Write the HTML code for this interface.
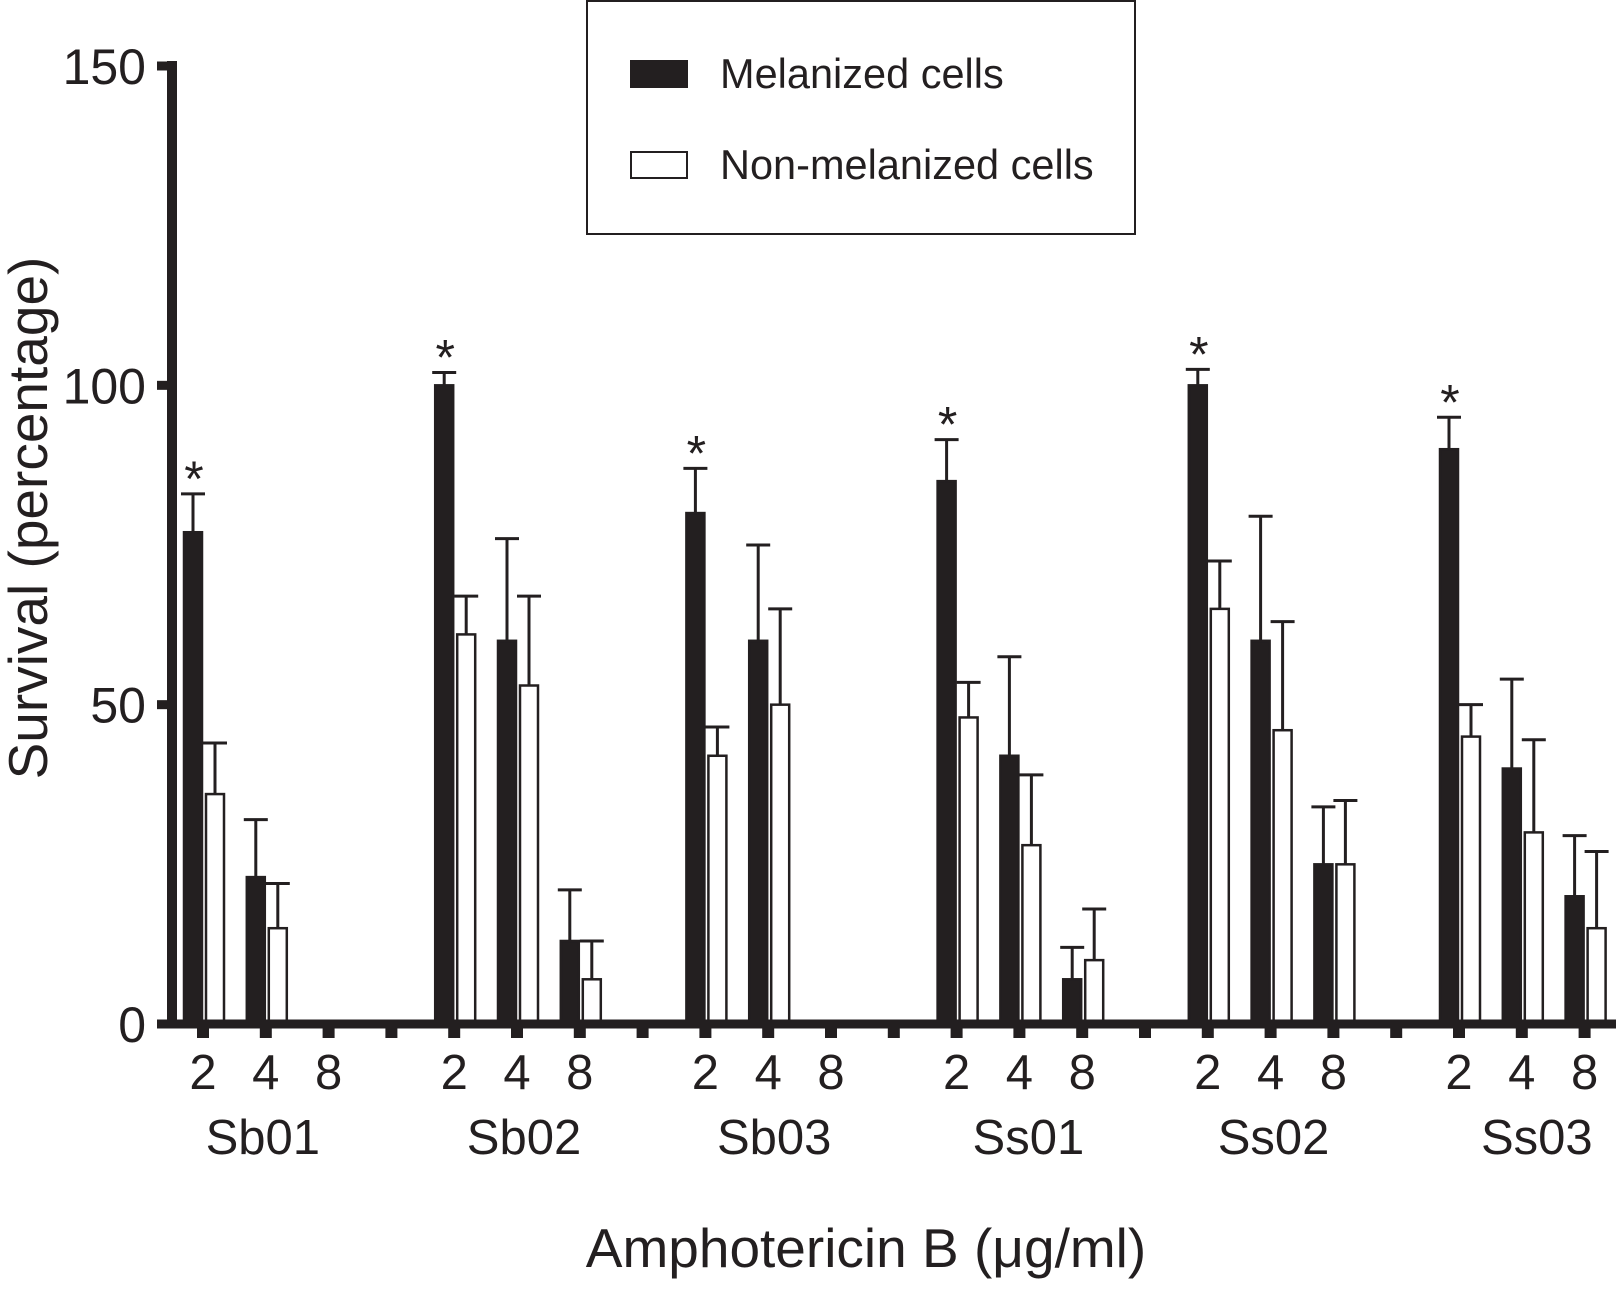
<!DOCTYPE html>
<html><head><meta charset="utf-8"><style>
html,body{margin:0;padding:0;background:#fff;}
svg{display:block;font-family:"Liberation Sans",Arial,sans-serif;}
</style></head><body>
<svg id="chart" width="1616" height="1293" viewBox="0 0 1616 1293">
<g id="legend">
<rect x="587" y="1" width="548" height="233" fill="#fff" stroke="#231f20" stroke-width="2"/>
<rect x="631" y="61" width="56" height="26" fill="#231f20" stroke="#231f20" stroke-width="2"/>
<text x="720" y="88" font-size="41.5" fill="#231f20">Melanized cells</text>
<rect x="631" y="152" width="56" height="26" fill="#fff" stroke="#231f20" stroke-width="2"/>
<text x="720" y="179" font-size="41.5" fill="#231f20">Non-melanized cells</text>
</g>
<text transform="translate(47,518) rotate(-90)" text-anchor="middle" font-size="55" fill="#231f20">Survival (percentage)</text>
<text x="866" y="1267" text-anchor="middle" font-size="55" fill="#231f20">Amphotericin B (μg/ml)</text>
<g id="marks"></g>
<g id="axes"></g>
</svg>
<script>
const groups = ["Sb01","Sb02","Sb03","Ss01","Ss02","Ss03"];
const doses = ["2","4","8"];
const melanized = [77,23,0, 100,60,13, 80,60,0, 85,42,7, 100,60,25, 90,40,20];
const melanizedErr = [6,9,0, 2,16,8, 7,15,0, 6.5,15.5,5, 2.5,19.5,9, 5,14,9.5];
const nonMelanized = [36,15,0, 61,53,7, 42,50,0, 48,28,10, 65,46,25, 45,30,15];
const nonMelanizedErr = [8,7,0, 6,14,6, 4.5,15,0, 5.5,11,8, 7.5,17,10, 5,14.5,12];
const significant = [1,0,0, 1,0,0, 1,0,0, 1,0,0, 1,0,0, 1,0,0];
const yTicks = [0,50,100,150];

const NS="http://www.w3.org/2000/svg";
const C="#231f20";
const y0=1024, yTop=66, yMax=150;
function yS(v){return y0-(y0-yTop)*v/yMax;}
function xS(g,d){return 203+251.2*g+62.8*d;}
const labelShift=[-3,7,6,9,3,15];
const marks=document.getElementById('marks'), axes=document.getElementById('axes');
function mk(tag,attrs,parent){const e=document.createElementNS(NS,tag);for(const k in attrs)e.setAttribute(k,attrs[k]);parent.appendChild(e);return e;}

groups.forEach((gname,g)=>{
  doses.forEach((dn,d)=>{
    const i=g*3+d, cx=xS(g,d);
    [[melanized,melanizedErr,cx-19,C,'melanized'],[nonMelanized,nonMelanizedErr,cx+3,'#fff','non-melanized']].forEach(([vals,errs,x,fill,nm])=>{
      const v=vals[i]; if(v<=0) return;
      const top=yS(v), bw=18;
      const r=mk('rect',{x:x,y:top,width:bw,height:y0-top,fill:fill,stroke:C,'stroke-width':2.5},marks);
      
      
      const et=yS(v+errs[i]), mx=x+bw/2;
      const l=mk('line',{x1:mx,y1:top,x2:mx,y2:et,stroke:C,'stroke-width':3},marks);
      
      
      const c=mk('line',{x1:mx-12,y1:et,x2:mx+12,y2:et,stroke:C,'stroke-width':3},marks);
      
      
      if(nm==='melanized' && significant[i]){
        const s=mk('text',{x:mx+1,y:et+2,'text-anchor':'middle','font-size':50,fill:C},marks);
        s.textContent='*';
        
        
      }
    });
    const tk=mk('rect',{x:cx-6,y:y0,width:12,height:14,fill:C},axes);
    
    
    const tl=mk('text',{x:cx,y:1089,'text-anchor':'middle','font-size':49,fill:C},axes);
    tl.textContent=dn;
    
    
  });
  const sx=xS(g,0)-62.8;
  if(g>0){
    const st=mk('rect',{x:sx-6,y:y0,width:12,height:14,fill:C},axes);
    
    
  }
  const gl=mk('text',{x:xS(g,1)+labelShift[g],y:1154,'text-anchor':'middle','font-size':49,fill:C},axes);
  gl.textContent=gname;
  
  
});
const xa=mk('rect',{x:168,y:y0-4.5,width:1448,height:9,fill:C},axes);


const ya=mk('rect',{x:167,y:yTop-5,width:10,height:y0-yTop+9,fill:C},axes);


yTicks.forEach(v=>{
  const t=mk('rect',{x:157,y:yS(v)-4.5,width:12,height:9,fill:C},axes);
  
  
  const l=mk('text',{x:146,y:yS(v)+18,'text-anchor':'end','font-size':50,fill:C},axes);
  l.textContent=v;
  
  
});
</script>
</body></html>
